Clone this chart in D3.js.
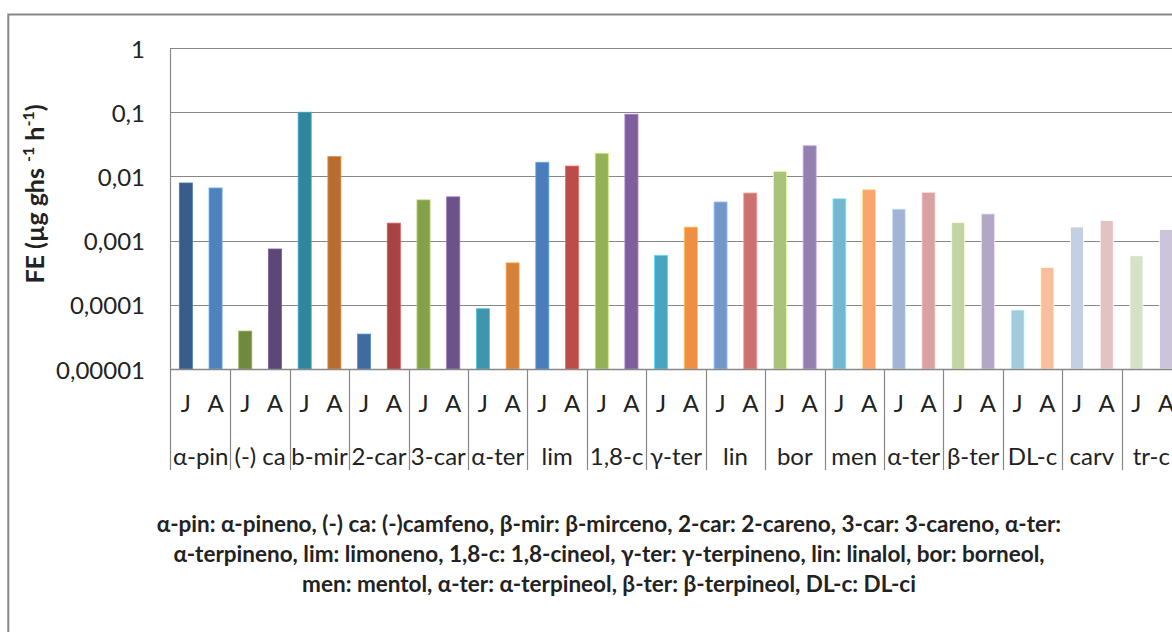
<!DOCTYPE html>
<html>
<head>
<meta charset="utf-8">
<script src="https://cdn.jsdelivr.net/npm/d3@7"></script>
<style>
  body { margin: 0; background: #fff; }
  svg { display: block; }
  text { font-family: Lato, "Open Sans", sans-serif; fill: #222; }
</style>
</head>
<body>
<svg id="chart" width="1172" height="632"></svg>
<script>
// Compound abbreviations (outer axis level) and sampling months (inner level)
const categories = ["α-pin", "(-) ca", "b-mir", "2-car", "3-car", "α-ter", "lim", "1,8-c",
  "γ-ter", "lin", "bor", "men", "α-ter", "β-ter", "DL-c", "carv", "tr-c"];
const months = ["J", "A"];

// Emission factors, µg g-1 h-1
const valuesJ = [0.0079, 0.000039, 0.1, 0.000035, 0.0043, 0.000087, 0.0166, 0.0229,
  0.00059, 0.0040, 0.012, 0.0045, 0.0031, 0.0019, 0.000083, 0.00163, 0.00058];
const valuesA = [0.0066, 0.00074, 0.0205, 0.00187, 0.0048, 0.00045, 0.0145, 0.093,
  0.00162, 0.0055, 0.030, 0.0062, 0.0056, 0.0026, 0.00038, 0.00205, 0.00149];

const tickValues = [0.00001, 0.0001, 0.001, 0.01, 0.1, 1];
const tickLabels = ["0,00001", "0,0001", "0,001", "0,01", "0,1", "1"];

const footnoteLines = [
  "α-pin: α-pineno, (-) ca: (-)camfeno, β-mir: β-mirceno, 2-car: 2-careno, 3-car: 3-careno, α-ter:",
  "α-terpineno, lim: limoneno, 1,8-c: 1,8-cineol, γ-ter: γ-terpineno, lin: linalol, bor: borneol,",
  "men: mentol, α-ter: α-terpineol, β-ter: β-terpineol, DL-c: DL-ci"
];

// One colour per bar (varied by point)
const barColors = [
  "#385D8A", "#4F81BD", "#71893F", "#5C4776", "#31859C", "#B66D31",
  "#3F6BA0", "#A84343", "#84A04A", "#6C5288", "#3F94AE", "#D6813A",
  "#4A7DBA", "#BC4C4A", "#95B155", "#7E5F9C", "#47A5C1", "#EE8F42",
  "#7596C8", "#CB7270", "#AAC37B", "#9380AE", "#73B7CE", "#F8A66E",
  "#A2B4D6", "#D9A1A1", "#C2D4A4", "#B2A8C6", "#A1CADB", "#F9BE9E",
  "#C3CFE3", "#E3C2C4", "#D6E2C6", "#CCC5DA"
];

const bars = [];
categories.forEach((c, i) => {
  bars.push({ cat: i, month: months[0], value: valuesJ[i] });
  bars.push({ cat: i, month: months[1], value: valuesA[i] });
});
bars.forEach((b, i) => { b.idx = i; b.color = barColors[i]; });

const svg = d3.select("#chart");
const W = 1172, H = 632;
const plot = { left: 170.5, right: 1181, top: 48, bottom: 369 };
const axisBottom = 470;
const gridColor = "#878787";

svg.append("rect").attr("width", W).attr("height", H).attr("fill", "#fff");

// Outer chart frame
svg.append("path")
  .attr("d", `M8.3,${H} V14.5 H${W}`)
  .attr("fill", "none").attr("stroke", gridColor).attr("stroke-width", 2);

const y = d3.scaleLog().domain([1e-5, 1]).range([plot.bottom, plot.top]);
const xCat = d3.scaleBand().domain(d3.range(categories.length)).range([171, plot.right]);
const xBar = d3.scaleBand().domain(d3.range(bars.length)).range([171, plot.right])
  .paddingInner(0.56).paddingOuter(0.28);

// Horizontal gridlines
svg.append("g").selectAll("line").data(tickValues).join("line")
  .attr("x1", plot.left).attr("x2", W)
  .attr("y1", d => Math.round(y(d)) + 0.5).attr("y2", d => Math.round(y(d)) + 0.5)
  .attr("stroke", gridColor).attr("stroke-width", 1.2);

// Y tick labels
svg.append("g").selectAll("text").data(tickValues).join("text")
  .attr("x", 145).attr("y", d => y(d))
  .attr("text-anchor", "end").attr("dominant-baseline", "central")
  .attr("font-size", 24)
  .text((d, i) => tickLabels[i]);

// Bars
svg.append("g").selectAll("rect").data(bars).join("rect")
  .attr("x", d => xBar(d.idx))
  .attr("width", xBar.bandwidth())
  .attr("y", d => y(d.value))
  .attr("height", d => y(1e-5) - y(d.value))
  .attr("fill", d => d.color)
  .attr("stroke", d => d3.color(d.color).brighter(0.8))
  .attr("stroke-width", 0.8);

// Category axis line and separators
svg.append("line")
  .attr("x1", plot.left).attr("x2", W)
  .attr("y1", plot.bottom + 0.5).attr("y2", plot.bottom + 0.5)
  .attr("stroke", gridColor).attr("stroke-width", 1.5);
svg.append("line")
  .attr("x1", plot.left).attr("x2", plot.left)
  .attr("y1", plot.top).attr("y2", axisBottom)
  .attr("stroke", gridColor).attr("stroke-width", 1.2);
svg.append("g").selectAll("line").data(d3.range(1, categories.length + 1)).join("line")
  .attr("x1", i => Math.round(xCat.step() * i + 171) + 0.5)
  .attr("x2", i => Math.round(xCat.step() * i + 171) + 0.5)
  .attr("y1", plot.bottom).attr("y2", axisBottom)
  .attr("stroke", gridColor).attr("stroke-width", 1.2);

// Month labels
svg.append("g").selectAll("text").data(bars).join("text")
  .attr("x", d => xBar(d.idx) + xBar.bandwidth() / 2)
  .attr("y", 402)
  .attr("text-anchor", "middle").attr("dominant-baseline", "central")
  .attr("font-size", 24)
  .text(d => d.month);

// Compound labels
svg.append("g").selectAll("text").data(categories).join("text")
  .attr("x", (d, i) => xCat(i) + xCat.bandwidth() / 2)
  .attr("y", 455)
  .attr("text-anchor", "middle").attr("dominant-baseline", "central")
  .attr("font-size", 24)
  .text(d => d);

// Y axis title with superscripts
const yTitle = svg.append("text")
  .attr("transform", "translate(44,194) rotate(-90)")
  .attr("text-anchor", "middle")
  .attr("font-size", 25).attr("font-weight", "bold");
yTitle.append("tspan").text("FE (µg ghs ");
yTitle.append("tspan").attr("font-size", 16).attr("dy", -10).text("-1");
yTitle.append("tspan").attr("dy", 10).text(" h");
yTitle.append("tspan").attr("font-size", 16).attr("dy", -10).text("-1");
yTitle.append("tspan").attr("dy", 10).text(")");

// Abbreviation key
svg.append("g").selectAll("text").data(footnoteLines).join("text")
  .attr("x", 609).attr("y", (d, i) => 523 + i * 30)
  .attr("text-anchor", "middle").attr("dominant-baseline", "central")
  .attr("font-size", 22.5).attr("font-weight", "bold")
  .text(d => d);
</script>
</body>
</html>
